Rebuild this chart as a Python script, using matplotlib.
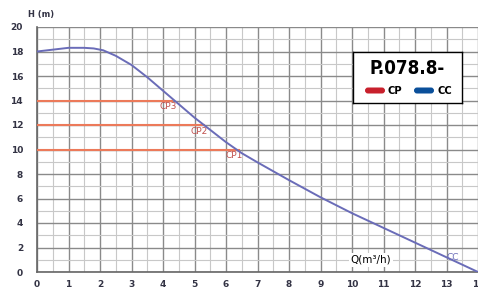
import numpy as np
import matplotlib
matplotlib.use("Agg")
import matplotlib.pyplot as plt
from matplotlib.patches import FancyBboxPatch

# pump curve CC
q = [0, 0.5, 1, 1.5, 1.8, 2.1, 2.5, 3, 3.5, 4, 4.5, 5, 5.5, 6, 6.5, 7, 8, 9, 10, 11, 12, 13, 14]
h = [18.0, 18.15, 18.3, 18.3, 18.25, 18.1, 17.65, 16.9, 15.9, 14.8, 13.7, 12.6, 11.6, 10.6,
     9.7, 8.95, 7.5, 6.1, 4.8, 3.6, 2.4, 1.2, 0.0]

# constant pressure settings
cp_names = ["CP1", "CP2", "CP3"]
cp_head = [10, 12, 14]
cp_end = [6.4, 5.3, 4.3]

xticks = list(range(0, 15))
yticks = list(range(0, 21, 2))

fig = plt.figure(figsize=(4.78, 2.93), dpi=100)
ax = fig.add_axes([37 / 478, 21 / 293, 441 / 478, 245 / 293])

ax.set_xlim(0, 14)
ax.set_ylim(0, 20)
ax.set_xticks(xticks)
ax.set_yticks(yticks)
ax.set_xticks(np.arange(0, 14.01, 0.5), minor=True)
ax.set_yticks(np.arange(0, 20.01, 1), minor=True)
ax.grid(which="major", color="#8a8a8a", lw=1.0)
ax.grid(which="minor", color="#c8c8c8", lw=0.8)
ax.set_axisbelow(True)
ax.tick_params(which="both", length=0)
ax.tick_params(axis="x", pad=6, labelsize=6.5, labelcolor="#333344")
ax.tick_params(axis="y", pad=10, labelsize=6.5, labelcolor="#333344")
for lab in ax.get_xticklabels() + ax.get_yticklabels():
    lab.set_fontweight("bold")
for s in ["top", "right"]:
    ax.spines[s].set_visible(False)
for s in ["left", "bottom"]:
    ax.spines[s].set_color("#666666")
    ax.spines[s].set_linewidth(1.2)

for name, hh, qe in zip(cp_names, cp_head, cp_end):
    ax.plot([0, qe], [hh, hh], color="#ec7a5a", lw=1.5, zorder=3)
    ax.text(qe - 0.15, hh - 0.5, name, color="#c0504d", fontsize=6.5,
            ha="center", va="center", zorder=4)

ax.plot(q, h, color="#6a6cb8", lw=1.4, zorder=5)
ax.text(13.2, 1.2, "CC", color="#6a6cb8", fontsize=6.5, ha="center", va="center")

ax.text(10.6, 1.0, "Q(m³/h)", fontsize=7.5, ha="center", va="center",
        bbox=dict(facecolor="white", edgecolor="none", pad=1.5), zorder=6)
fig.text(28 / 478, 1 - 14 / 293, "H (m)", fontsize=6, fontweight="bold",
         color="#333344", va="center")

# legend box
lax = fig.add_axes([353 / 478, 190 / 293, 109 / 478, 51 / 293])
lax.set_xlim(0, 109)
lax.set_ylim(0, 51)
lax.set_xticks([])
lax.set_yticks([])
for s in lax.spines.values():
    s.set_color("black")
    s.set_linewidth(1.0)
lax.text(54, 34, "P.078.8-", family="DejaVu Sans", fontstretch="condensed",
         fontweight="bold", fontsize=13.5, ha="center", va="center")
lax.add_patch(FancyBboxPatch((12, 9.5), 20, 6, boxstyle="round,pad=0,rounding_size=3",
                             fc="#c8202c", ec="none", mutation_aspect=1))
lax.text(35, 12.5, "CP", fontstretch="condensed", fontweight="bold", fontsize=8, va="center")
lax.add_patch(FancyBboxPatch((61, 9.5), 20, 6, boxstyle="round,pad=0,rounding_size=3",
                             fc="#0a4f9a", ec="none", mutation_aspect=1))
lax.text(84, 12.5, "CC", fontstretch="condensed", fontweight="bold", fontsize=8, va="center")

fig.savefig("out.png", dpi=100)
